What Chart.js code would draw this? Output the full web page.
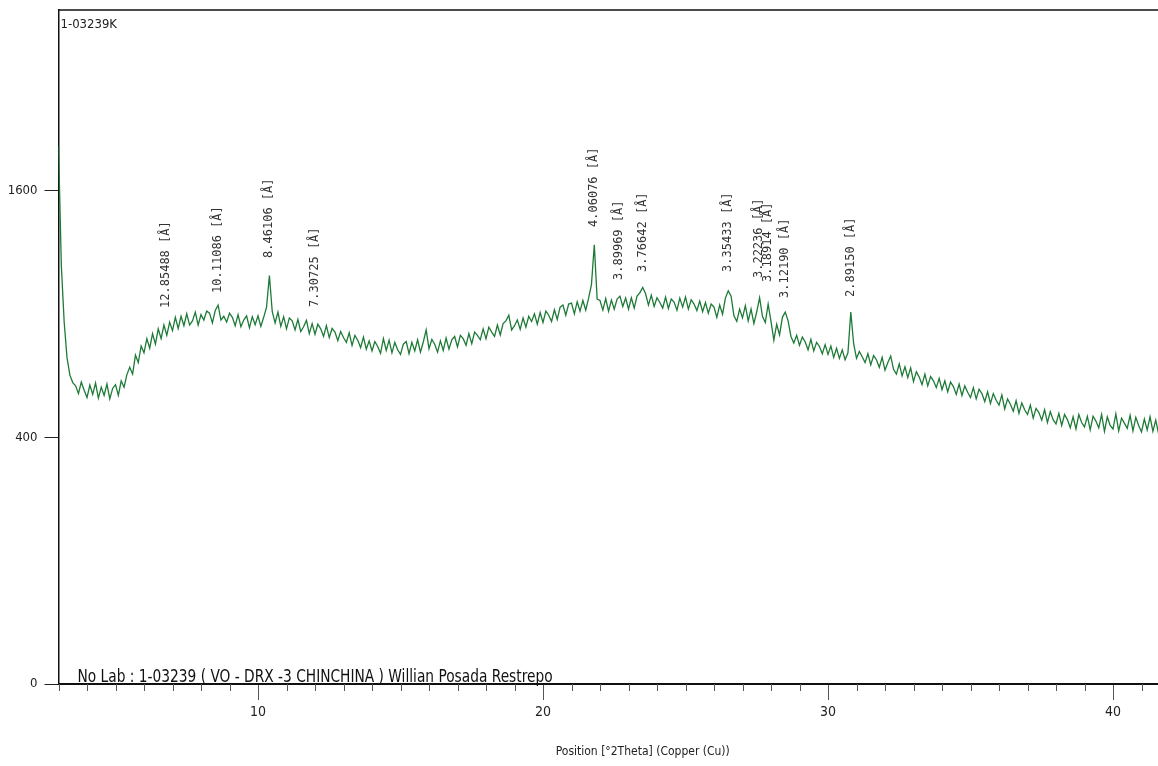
<!DOCTYPE html>
<html><head><meta charset="utf-8">
<script src="https://cdn.jsdelivr.net/npm/chart.js@4.4.1/dist/chart.umd.min.js"></script>
<style>
html,body{margin:0;padding:0;background:#fff;overflow:hidden;}
#wrap{width:1158px;height:766px;overflow:hidden;position:relative;background:#fff;}
canvas{display:block;}
</style></head><body>
<div id="wrap"><canvas id="c" width="1227" height="766"></canvas></div>
<script>
// ---- scan definition (°2θ) ----
const scanStart = 3.0;
const scanStep = 0.1;
// ---- measured intensity (counts), one value per step, 3.0° … 41.7° ----
const intensity = [
  1905,1150,860,700,628,598,585,555,600,568,
  540,588,552,596,538,580,548,592,535,575,
  590,548,605,580,630,660,632,712,680,752,
  722,785,742,808,760,830,785,848,800,862,
  822,885,832,890,845,902,848,868,910,848,
  898,872,915,905,858,918,945,872,890,862,
  905,885,845,898,840,872,892,835,888,850,
  892,842,885,935,1098,912,858,910,842,888,
  830,882,868,825,875,818,840,870,808,855,
  805,852,830,795,845,790,832,815,776,818,
  790,768,812,755,800,778,745,792,738,775,
  730,772,750,720,785,732,778,722,768,735,
  715,760,772,718,768,730,780,725,770,825,
  740,782,760,725,775,732,788,738,780,795,
  748,800,785,755,808,762,815,800,780,830,
  785,838,815,795,848,802,855,868,895,825,
  845,872,828,882,838,890,865,902,852,908,
  860,915,895,865,922,875,935,945,895,950,
  955,902,962,915,968,920,980,1050,1270,975,
  968,920,978,915,970,925,975,990,938,980,
  925,982,930,990,1008,1035,1002,945,995,938,
  982,958,930,985,928,975,960,920,980,935,
  985,925,972,950,918,965,912,958,905,950,
  935,885,945,900,980,1018,990,892,865,925,
  882,942,868,925,855,912,982,890,860,950,
  865,778,852,802,885,910,868,795,765,800,
  755,792,770,735,782,730,768,750,718,758,
  715,752,702,742,698,735,692,722,910,762,
  698,728,705,680,718,670,710,692,660,702,
  648,680,708,652,632,675,625,662,618,658,
  602,642,620,590,632,585,622,605,578,615,
  570,605,562,600,582,552,592,548,585,560,
  540,578,535,572,555,525,562,518,555,530,
  512,550,498,535,515,490,528,482,520,495,
  478,512,465,500,485,458,495,450,488,460,
  445,482,440,478,460,432,470,428,478,450,
  435,472,425,472,455,432,478,420,470,440,
  428,480,422,465,448,430,475,422,468,440,
  418,462,425,470,420,458,412,455
];
// ---- labelled peaks ----
const peakLabels   = ['12.85488','10.11086','8.46106','7.30725','4.06076','3.89969','3.76642','3.35433','3.22236','3.18914','3.12190','2.89150'];
const peakTwoTheta = [6.77, 8.6, 10.38, 12.0, 21.8, 22.67, 23.5, 26.47, 27.57, 27.9, 28.5, 30.82];
const peakHeights  = [858, 931, 1112, 863, 1286, 996, 1038, 1038, 1006, 986, 906, 911];
// ---- axes ----
const xMin = 3, xMax = 44;
const yMin = 0, yMax = 2990;
const xTickValues = [10, 20, 30, 40];
const yTickValues = [0, 400, 1600];
const sampleId = '1-03239K';
const sampleText = 'No Lab : 1-03239 ( VO - DRX -3 CHINCHINA ) Willian Posada Restrepo';
const xTitle = 'Position [°2Theta] (Copper (Cu))';

// square-root intensity scale
class SqrtScale extends Chart.LinearScale {
  static id = 'sqrt';
  buildTicks() { return yTickValues.map(v => ({ value: v })); }
  getPixelForValue(value) {
    const a = Math.sqrt(Math.max(this.min, 0)), b = Math.sqrt(this.max);
    return this.getPixelForDecimal((Math.sqrt(Math.max(value, 0)) - a) / (b - a));
  }
  getValueForPixel(pixel) {
    const a = Math.sqrt(Math.max(this.min, 0)), b = Math.sqrt(this.max);
    const s = a + this.getDecimalForPixel(pixel) * (b - a);
    return s * s;
  }
}
Chart.register(SqrtScale);

const points = intensity.map((v, i) => ({ x: +(scanStart + i * scanStep).toFixed(2), y: v }));

const condensed = '"DejaVu Sans Condensed", "DejaVu Sans", sans-serif';

const decor = {
  id: 'decor',
  afterDatasetsDraw(chart) {
    const { ctx, chartArea: a, scales: { x, y } } = chart;
    ctx.save();
    // top frame line
    ctx.strokeStyle = '#111'; ctx.lineWidth = 1.5;
    ctx.beginPath(); ctx.moveTo(a.left, a.top); ctx.lineTo(a.right, a.top); ctx.stroke();
    // minor ticks every degree
    ctx.strokeStyle = '#555'; ctx.lineWidth = 1;
    for (let v = Math.ceil(x.min); v <= x.max; v++) {
      if (xTickValues.includes(v)) continue;
      const px = Math.round(x.getPixelForValue(v)) + 0.5;
      ctx.beginPath(); ctx.moveTo(px, a.bottom); ctx.lineTo(px, a.bottom + 7); ctx.stroke();
    }
    // peak labels
    ctx.fillStyle = '#333';
    ctx.font = '12px "DejaVu Sans Mono", monospace';
    ctx.textAlign = 'left'; ctx.textBaseline = 'middle';
    peakLabels.forEach((lab, i) => {
      const px = x.getPixelForValue(peakTwoTheta[i]);
      const py = y.getPixelForValue(peakHeights[i]) - 15;
      ctx.save(); ctx.translate(px, py); ctx.rotate(-Math.PI / 2);
      ctx.fillText(lab + ' [Å]', 0, 0);
      ctx.restore();
    });
    // sample id (top-left)
    ctx.fillStyle = '#222';
    ctx.font = '13px ' + condensed;
    ctx.textBaseline = 'alphabetic';
    ctx.fillText(sampleId, a.left + 2, a.top + 18);
    // sample description on the axis (narrow lettering)
    ctx.fillStyle = '#111';
    ctx.font = '18px ' + condensed;
    ctx.save();
    ctx.translate(a.left + 19, a.bottom - 2);
    ctx.scale(0.85, 1);
    ctx.fillText(sampleText, 0, 0);
    ctx.restore();
    ctx.restore();
  }
};

new Chart(document.getElementById('c'), {
  type: 'line',
  data: {
    datasets: [{
      data: points,
      borderColor: '#1d7a36',
      borderWidth: 1.3,
      pointRadius: 0,
      tension: 0,
      fill: false
    }]
  },
  options: {
    responsive: false,
    animation: false,
    devicePixelRatio: 1,
    layout: { padding: { left: 0, right: 0, top: 10, bottom: 0 } },
    plugins: { legend: { display: false }, tooltip: { enabled: false } },
    scales: {
      x: {
        type: 'linear', min: xMin, max: xMax,
        afterBuildTicks: s => { s.ticks = xTickValues.map(v => ({ value: v })); },
        afterFit: s => { s.height = 82; s.paddingLeft = 0; s.paddingRight = 0; },
        grid: { drawOnChartArea: false, drawTicks: true, tickLength: 16, color: '#555', lineWidth: 1 },
        border: { display: true, color: '#111', width: 2 },
        ticks: { padding: 4, color: '#222', font: { size: 14, family: condensed }, maxRotation: 0 },
        title: { display: true, text: xTitle, color: '#222', font: { size: 12, family: condensed }, padding: { top: 4, bottom: 7 } }
      },
      y: {
        type: 'sqrt', min: yMin, max: yMax,
        afterFit: s => { s.width = 58.5; s.paddingTop = 0; s.paddingBottom = 0; },
        grid: { drawOnChartArea: false, drawTicks: true, tickLength: 14, color: '#222', lineWidth: 1 },
        border: { display: true, color: '#111', width: 1.5 },
        ticks: { padding: 7, color: '#222', font: { size: 13, family: condensed }, callback: v => String(v) }
      }
    }
  },
  plugins: [decor]
});
</script>
</body></html>
